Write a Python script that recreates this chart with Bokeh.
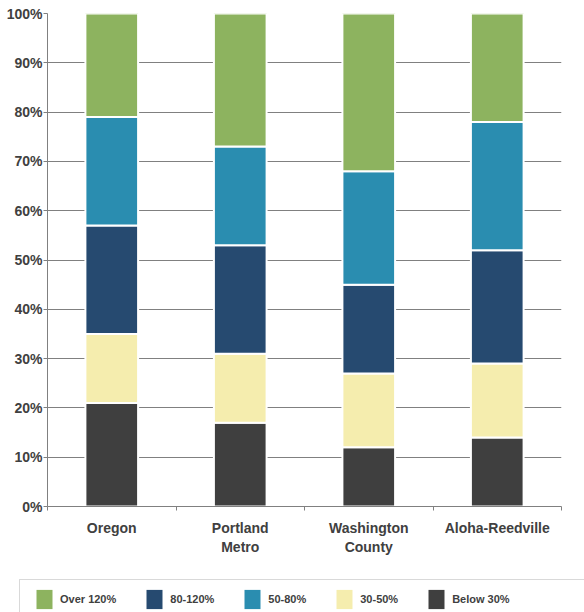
from bokeh.plotting import figure
from bokeh.models import FixedTicker, Legend, LegendItem, ColumnDataSource, BoxAnnotation
from bokeh.layouts import column
from bokeh.embed import file_html
from bokeh.resources import INLINE

categories = ["Oregon", "Portland\nMetro", "Washington\nCounty", "Aloha-Reedville"]
below_30 = [21, 17, 12, 14]
r30_50 = [14, 14, 15, 15]
r80_120 = [22, 22, 18, 23]
r50_80 = [22, 20, 23, 26]
over_120 = [21, 27, 32, 22]
y_ticks = [0, 10, 20, 30, 40, 50, 60, 70, 80, 90, 100]

stack_keys = ["below_30", "r30_50", "r80_120", "r50_80", "over_120"]
stack_colors = ["#3f3f3f", "#f5edae", "#264a70", "#2a8db0", "#8db35f"]
legend_order = [("Over 120%", "over_120"), ("80-120%", "r80_120"),
                ("50-80%", "r50_80"), ("30-50%", "r30_50"), ("Below 30%", "below_30")]

xpos = [i + 0.5 for i in range(len(categories))]
src = ColumnDataSource(dict(x=xpos, below_30=below_30, r30_50=r30_50,
                            r80_120=r80_120, r50_80=r50_80, over_120=over_120))

axis_color = "#808080"
text_color = "#404040"
font = "Liberation Sans"

p = figure(width=584, height=560, x_range=(0, len(categories)), y_range=(0, 100),
           output_backend="svg", toolbar_location=None,
           min_border_left=47, min_border_right=23, min_border_top=13, min_border_bottom=54)
p.outline_line_color = None
p.frame_align = False

p.vbar_stack(stack_keys, x="x", width=0.41, source=src, color=stack_colors,
             line_color="white", line_width=2)

# x axis
xa = p.xaxis[0]
xa.ticker = FixedTicker(ticks=xpos, minor_ticks=list(range(len(categories) + 1)))
xa.major_label_overrides = {x: c for x, c in zip(xpos, categories)}
xa.major_tick_out = 0
xa.major_tick_in = 0
xa.minor_tick_out = 4
xa.minor_tick_in = 0
xa.minor_tick_line_color = axis_color
xa.axis_line_color = axis_color
xa.major_label_standoff = 9
xa.major_label_text_font = font
xa.major_label_text_font_style = "bold"
xa.major_label_text_font_size = "14px"
xa.major_label_text_color = text_color
xa.major_label_text_line_height = 1.2

# y axis
ya = p.yaxis[0]
ya.ticker = FixedTicker(ticks=y_ticks)
ya.major_label_overrides = {t: f"{t}%" for t in y_ticks}
ya.major_tick_out = 4
ya.major_tick_in = 0
ya.minor_tick_line_color = None
ya.major_tick_line_color = axis_color
ya.axis_line_color = axis_color
ya.major_label_standoff = 1
ya.major_label_text_font = font
ya.major_label_text_font_style = "bold"
ya.major_label_text_font_size = "14px"
ya.major_label_text_color = text_color

p.xgrid.grid_line_color = None
p.ygrid.ticker = FixedTicker(ticks=y_ticks[1:-1])
p.ygrid.grid_line_color = axis_color
p.ygrid.grid_line_width = 1

# legend strip
p2 = figure(width=584, height=52, x_range=(0, len(categories)), y_range=(0, 100),
            output_backend="svg", toolbar_location=None,
            x_axis_location=None, y_axis_location=None,
            min_border_left=0, min_border_right=0, min_border_top=0, min_border_bottom=0)
p2.outline_line_color = None
p2.frame_align = False
p2.xgrid.visible = False
p2.ygrid.visible = False
rs2 = p2.vbar_stack(stack_keys, x="x", width=0.41, source=src, color=stack_colors,
                    line_color=None)
for r in rs2:
    r.visible = False
rmap = dict(zip(stack_keys, rs2))

box = BoxAnnotation(left=19, left_units="screen", top=33, top_units="screen",
                    fill_alpha=0, line_color="#808080", line_width=1)
p2.add_layout(box)

items = [LegendItem(label=lab, renderers=[rmap[k]]) for lab, k in legend_order]
legend = Legend(items=items, orientation="horizontal", location=(34, 1),
                glyph_width=20, glyph_height=24, label_standoff=6, spacing=28,
                padding=4, margin=0,
                label_text_font=font, label_text_font_style="bold",
                label_text_font_size="11px", label_text_color=text_color,
                border_line_color=None, background_fill_alpha=0)
p2.add_layout(legend, "center")

open("out.html", "w").write(file_html(column(p, p2, spacing=0), INLINE))
